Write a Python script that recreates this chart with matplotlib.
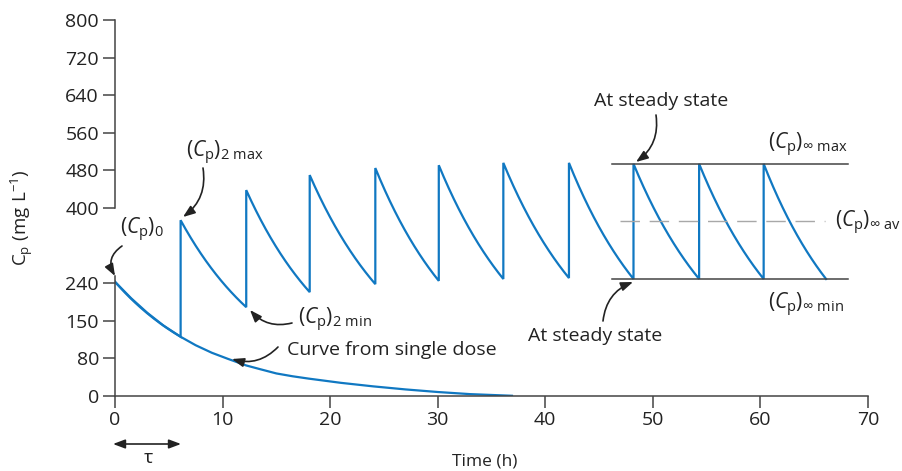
import matplotlib
matplotlib.use('Agg')
import matplotlib.pyplot as plt
import numpy as np

# multiple dosing: dose times (h), peak after each dose, trough just before the next
dose_times = [0, 6.1, 12.2, 18.1, 24.2, 30.1, 36.1, 42.2, 48.2, 54.3, 60.3]
end_time = 66.1
peak_conc = [243, 374, 438, 470, 485, 491, 496, 496, 494, 494, 494]
trough_conc = [126, 189, 221, 238, 245, 249, 251, 249, 249, 249, 249]

# single dose curve
single_t = [0, 1.5, 3, 4.5, 6.1, 7.5, 9, 10.5, 12.2, 13.5, 15, 16.5, 18, 21, 24, 27, 30, 33, 36.9]
single_c = [243, 208, 177, 150, 126, 108, 92, 79, 65, 57, 48, 42, 37, 28, 20.5, 14, 8.5, 4, 0.5]

ss_max = 494
ss_min = 249
ss_av = 372

xticks = [0, 10, 20, 30, 40, 50, 60, 70]
ytick_pos = [0, 80, 160, 240, 400, 480, 560, 640, 720, 800]
ytick_lab = ['0', '80', '150', '240', '400', '480', '560', '640', '720', '800']

FONT = 'Open Sans'
plt.rcParams['font.family'] = [FONT, 'DejaVu Sans']
plt.rcParams['mathtext.fontset'] = 'custom'
plt.rcParams['mathtext.rm'] = FONT
plt.rcParams['mathtext.it'] = FONT + ':italic'

BLUE = '#1078c2'
AXC = '#444444'
TXT = '#222222'
W, H = 903, 471

fig = plt.figure(figsize=(W / 100, H / 100), dpi=100)
ax = fig.add_axes([115 / W, 75 / H, 753 / W, 376 / H])

# sawtooth
tt_all, cc_all = [], []
for i, t0 in enumerate(dose_times):
    t1 = dose_times[i + 1] if i + 1 < len(dose_times) else end_time
    tt = np.linspace(t0, t1, 40)
    cc = peak_conc[i] * (trough_conc[i] / peak_conc[i]) ** ((tt - t0) / (t1 - t0))
    tt_all.extend(tt)
    cc_all.extend(cc)
ax.plot(tt_all, cc_all, color=BLUE, lw=1.6, solid_joinstyle='miter')
ax.plot(single_t, single_c, color=BLUE, lw=1.6)

# steady state lines
ax.plot([46.2, 68.1], [ss_max, ss_max], color=AXC, lw=1.1)
ax.plot([46.2, 68.1], [ss_min, ss_min], color=AXC, lw=1.1)
ax.plot([46.9, 66.0], [ss_av, ss_av], color='#a8a8a8', lw=1.0, ls=(0, (14, 7)))

ax.set_xlim(0, 70)
ax.set_ylim(0, 800)
ax.set_xticks(xticks)
ax.set_yticks(ytick_pos)
ax.set_yticklabels(ytick_lab)
for s in ['top', 'right', 'left']:
    ax.spines[s].set_visible(False)
ax.spines['bottom'].set_color(AXC)
ax.spines['bottom'].set_linewidth(1.1)
# broken y axis
ax.plot([0, 0], [0, 255], color=AXC, lw=1.1, clip_on=False)
ax.plot([0, 0], [400, 800], color=AXC, lw=1.1, clip_on=False)
ax.tick_params(direction='out', length=8.6, width=1.1, color=AXC, labelsize=14,
               labelcolor=TXT)
ax.tick_params(axis='y', pad=3)
ax.tick_params(axis='x', pad=2)


def fp(x, y):
    return (x, H - y)


def txt(x, y, s, size=14, ha='center'):
    fig.text(x / W, 1 - y / H, s, ha=ha, va='center', fontsize=size, color=TXT)


def arrow(start, tip, rad, style='-|>'):
    ax.annotate('', xy=fp(*tip), xytext=fp(*start), xycoords='figure pixels',
                textcoords='figure pixels',
                arrowprops=dict(arrowstyle=style + ',head_length=0.8,head_width=0.3',
                                connectionstyle='arc3,rad=%s' % rad, color=TXT,
                                lw=1.2, mutation_scale=9, shrinkA=0, shrinkB=0))


txt(142, 230, r'$(C_\mathrm{p})_0$', size=15)
arrow((122, 246), (115, 276), 0.45)

txt(225, 153, r'$(C_\mathrm{p})_{2\ \mathrm{max}}$', size=15)
arrow((203, 168), (183, 217), -0.3)

txt(335, 320, r'$(C_\mathrm{p})_{2\ \mathrm{min}}$', size=15)
arrow((292, 323), (250, 310), -0.3)

txt(392, 350, 'Curve from single dose')
arrow((278, 347), (232, 359), -0.3)

txt(661, 101, 'At steady state')
arrow((656, 115), (636, 162), -0.3)

txt(595, 336, 'At steady state')
arrow((603, 321), (633, 282), -0.3)

txt(768, 145, r'$(C_\mathrm{p})_{\infty\ \mathrm{max}}$', size=15, ha='left')
txt(835, 223, r'$(C_\mathrm{p})_{\infty\ \mathrm{av}}$', size=15, ha='left')
txt(768, 305, r'$(C_\mathrm{p})_{\infty\ \mathrm{min}}$', size=15, ha='left')

arrow((113, 444), (181, 444), 0, style='<|-|>')
txt(148, 458, 'τ', size=14)

txt(485, 461, 'Time (h)', size=12.5)
fig.text(22 / W, 1 - 218 / H, r'$\mathrm{C_p\ (mg\ L^{-1})}$', rotation=90,
         ha='center', va='center', fontsize=13.5, color=TXT)

fig.savefig('out.png', dpi=100)
